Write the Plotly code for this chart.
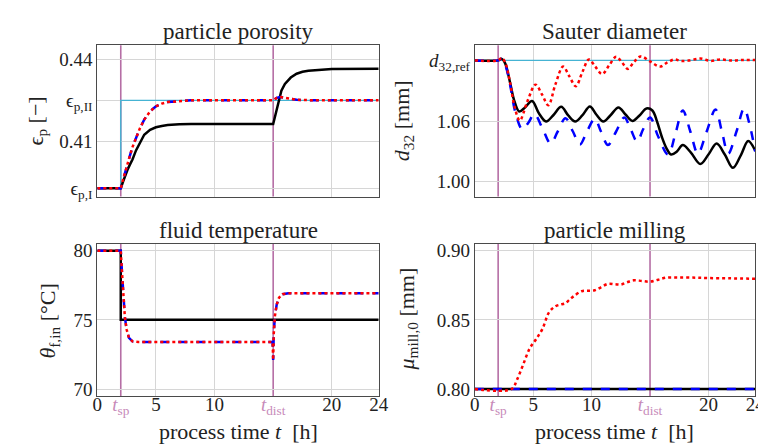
import plotly.graph_objects as go

# time markers
t_sp = 2
t_dist = 15

# ---- particle porosity ----
eps_I = 0.393
eps_II = 0.425
t_por_sp = [0, t_sp, t_sp, 24]
por_sp = [eps_I, eps_I, eps_II, eps_II]
t_por = [0, 2, 2.2, 2.4, 2.6, 2.8, 3, 3.3, 3.6, 4, 4.5, 5, 5.5, 6, 7, 8, 15,
         15.15, 15.3, 15.6, 16, 16.5, 17, 18, 19, 24]
por_red = [0.393, 0.393, 0.3962, 0.3995, 0.4025, 0.4052, 0.4080, 0.4115, 0.4145, 0.4180,
           0.4210, 0.4228, 0.4238, 0.4244, 0.4248, 0.4250, 0.4250,
           0.4255, 0.4259, 0.4262, 0.4259, 0.4255, 0.4252, 0.4251, 0.4250, 0.4250]
por_blue = list(por_red)
t_por_blk = [0, 2, 2.2, 2.4, 2.6, 2.8, 3, 3.3, 3.6, 4, 4.5, 5, 5.5, 6, 7, 8, 15,
             15.2, 15.4, 15.7, 16, 16.5, 17, 17.5, 18, 19, 20, 24]
por_blk = [0.393, 0.393, 0.3955, 0.3980, 0.4000, 0.4018, 0.4035, 0.4068, 0.4095, 0.4125,
           0.4143, 0.4152, 0.4157, 0.4160, 0.4163, 0.4164, 0.4164,
           0.4200, 0.4240, 0.4285, 0.4310, 0.4333, 0.4347, 0.4354, 0.4358, 0.4362,
           0.4364, 0.4365]

# ---- Sauter diameter ----
d32_ref = 1.121
t_d_sp = [0, 24]
d_sp = [d32_ref, d32_ref]
t_d_blk = [0, 2, 2.3, 2.6, 3, 3.4, 3.8, 4.3, 4.9, 5.5, 6.1, 6.7, 7.4, 8.0, 8.6, 9.2, 9.85,
           10.4, 11.0, 11.6, 12.3, 12.9, 13.5, 14.1, 14.7, 15.2, 15.6, 16.0, 16.4, 16.8,
           17.3, 17.8, 18.5, 19.3, 20.0, 20.7, 21.4, 22.1, 22.8, 23.4, 24]
d_blk = [1.121, 1.121, 1.1225, 1.118, 1.100, 1.080, 1.070, 1.074, 1.0805, 1.068, 1.060,
         1.066, 1.0747, 1.066, 1.060, 1.066, 1.075, 1.067, 1.060, 1.066, 1.074, 1.067,
         1.0605, 1.066, 1.073, 1.071, 1.060, 1.045, 1.0335, 1.027, 1.030, 1.0365, 1.029,
         1.0176, 1.027, 1.038, 1.027, 1.0137, 1.027, 1.0404, 1.031]
t_d_blue = [0, 2, 2.3, 2.6, 3, 3.5, 4.07, 4.6, 5.1, 5.8, 6.5, 7.1, 7.76, 8.4, 9.0, 9.6,
            10.27, 10.8, 11.4, 12.1, 12.8, 13.35, 13.9, 14.4, 15.0, 15.7, 16.55, 17.2,
            17.8, 18.45, 19.1, 19.85, 20.6, 21.15, 21.7, 22.4, 23.05, 23.5, 24]
d_blue = [1.121, 1.121, 1.1225, 1.117, 1.098, 1.068, 1.0522, 1.059, 1.0675, 1.053, 1.038,
          1.050, 1.0633, 1.050, 1.037, 1.050, 1.0626, 1.050, 1.0365, 1.050, 1.064, 1.052,
          1.040, 1.052, 1.064, 1.045, 1.027, 1.049, 1.071, 1.050, 1.028, 1.050, 1.072,
          1.050, 1.028, 1.050, 1.073, 1.058, 1.030]
t_d_red = [0, 2, 2.3, 2.6, 3, 3.4, 3.85, 4.5, 5.2, 5.75, 6.3, 6.9, 7.56, 8.1, 8.65, 9.2,
           9.77, 10.3, 10.9, 11.5, 12.1, 12.6, 13.1, 13.6, 14.2, 15.0, 15.85, 16.5, 17.1,
           17.6, 18.3, 19.3, 20.2, 21, 22, 23, 24]
d_red = [1.121, 1.121, 1.1235, 1.119, 1.100, 1.075, 1.061, 1.080, 1.0968, 1.087, 1.0763,
         1.097, 1.1148, 1.105, 1.0952, 1.109, 1.122, 1.115, 1.1073, 1.116, 1.1246, 1.119,
         1.1125, 1.119, 1.125, 1.120, 1.1148, 1.119, 1.122, 1.1205, 1.1208, 1.1228, 1.1205,
         1.122, 1.1208, 1.1215, 1.1213]

# ---- fluid temperature ----
t_th_blk = [0, t_sp, t_sp, 24]
th_blk = [80, 80, 75, 75]
t_th = [0, 2, 2.1, 2.2, 2.35, 2.5, 2.7, 3, 3.5, 14.95, 15.0, 15.05, 15.15, 15.3, 15.5,
        15.8, 16.3, 24]
th_red = [80, 80, 78.5, 76.8, 75.2, 74.3, 73.7, 73.45, 73.4, 73.4, 72.1, 74.0, 75.3, 76.1,
          76.6, 76.85, 76.92, 76.92]
th_blue = list(th_red)

# ---- particle milling ----
t_mu_flat = [0, 24]
mu_blk = [0.80, 0.80]
mu_blue = [0.80, 0.80]
t_mu_red = [0, 3.15, 3.6, 4.13, 4.7, 5.25, 5.8, 6.36, 6.9, 7.4, 7.76, 8.1, 8.46, 9.15, 9.7,
            10.27, 10.8, 11.4, 12.0, 12.5, 13.0, 13.6, 14.3, 15, 15.7, 16.4, 17.5, 18.9,
            20, 21.7, 24]
mu_red = [0.80, 0.80, 0.8065, 0.8174, 0.8293, 0.836, 0.8436, 0.8555, 0.8598, 0.8612, 0.862,
          0.8645, 0.867, 0.8707, 0.871, 0.8714, 0.8735, 0.876, 0.8757, 0.8755, 0.877,
          0.8786, 0.8781, 0.8776, 0.879, 0.8805, 0.8806, 0.8805, 0.8802, 0.8800, 0.8797]

FONT = "Liberation Serif"
TXT = "#222222"
CYAN = "#45b3d3"
PURPLE = "#b56ea5"
PURPLE_TXT = "#c78ab9"
RED = "#ff0000"
BLUE = "#0000ff"

fig = go.Figure()


def add(x, y, xa, ya, color, width, dash="solid", shape="linear"):
    fig.add_trace(go.Scatter(x=x, y=y, xaxis=xa, yaxis=ya, mode="lines",
                             line=dict(color=color, width=width, dash=dash, shape=shape),
                             showlegend=False, hoverinfo="skip"))


# porosity (x, y)
add(t_por_sp, por_sp, "x", "y", CYAN, 1.4)
add(t_por_blk, por_blk, "x", "y", "black", 2.5)
add(t_por, por_blue, "x", "y", BLUE, 2.5, "dash")
add(t_por, por_red, "x", "y", RED, 2.5, "dot")

# sauter (x2, y2)
add(t_d_sp, d_sp, "x2", "y2", CYAN, 1.4)
add(t_d_blk, d_blk, "x2", "y2", "black", 2.5, shape="spline")
add(t_d_blue, d_blue, "x2", "y2", BLUE, 2.5, "dash", "spline")
add(t_d_red, d_red, "x2", "y2", RED, 2.5, "dot", "spline")

# temperature (x3, y3)
add(t_th_blk, th_blk, "x3", "y3", "black", 2.5)
add(t_th, th_blue, "x3", "y3", BLUE, 2.5, "dash")
add(t_th, th_red, "x3", "y3", RED, 2.5, "dot")

# milling (x4, y4)
add(t_mu_flat, mu_blk, "x4", "y4", "black", 2.5)
add(t_mu_flat, mu_blue, "x4", "y4", BLUE, 2.5, "dash")
add(t_mu_red, mu_red, "x4", "y4", RED, 2.5, "dot", "spline")

x_ticks = [0, t_sp, 5, 10, t_dist, 20, 24]
x_text = ["0", f"<span style='color:{PURPLE_TXT}'><i>t</i><sub>sp</sub></span>", "5", "10",
          f"<span style='color:{PURPLE_TXT}'><i>t</i><sub>dist</sub></span>", "20", "24"]
x_grid = [5, 10, 20]

W, H = 766, 445
dom_x = [[86 / W, 373 / W], [471 / W, 757 / W]]
dom_y = [[1 - 189 / H, 1 - 35 / H], [1 - 392 / H, 1 - 237 / H]]

GRID = "#d6d6d6"
axis_common = dict(showline=True, mirror=True, linecolor="#4a4a4a", linewidth=1,
                   showgrid=True, gridcolor=GRID, gridwidth=1, zeroline=False,
                   ticks="", tickfont=dict(family=FONT, size=19, color=TXT))
x_common = dict(axis_common, showgrid=False, range=[0, 24], tickvals=x_ticks,
                minor=dict(tickmode="array", tickvals=x_grid, showgrid=True,
                           gridcolor=GRID, gridwidth=1, ticks=""))

layout = dict(
    width=W, height=H, margin=dict(l=0, r=0, t=0, b=0),
    plot_bgcolor="white", paper_bgcolor="white",
    xaxis=dict(x_common, domain=dom_x[0], anchor="y", showticklabels=False),
    xaxis2=dict(x_common, domain=dom_x[1], anchor="y2", showticklabels=False),
    xaxis3=dict(x_common, domain=dom_x[0], anchor="y3", ticktext=x_text,
                ticklabelstandoff=-9),
    xaxis4=dict(x_common, domain=dom_x[1], anchor="y4", ticktext=x_text,
                ticklabelstandoff=-9),
    yaxis=dict(axis_common, domain=dom_y[0], anchor="x", range=[0.39, 0.445],
               tickvals=[eps_I, 0.41, eps_II, 0.44],
               ticktext=["ϵ<sub>p,I</sub>", "0.41", "ϵ<sub>p,II</sub>", "0.44"]),
    yaxis2=dict(axis_common, domain=dom_y[0], anchor="x2", range=[0.985, 1.136],
                tickvals=[1.00, 1.06, d32_ref],
                ticktext=["1.00", "1.06", "<i>d</i><sub>32,ref</sub>"]),
    yaxis3=dict(axis_common, domain=dom_y[1], anchor="x3", range=[69.5, 80.5],
                tickvals=[70, 75, 80]),
    yaxis4=dict(axis_common, domain=dom_y[1], anchor="x4", range=[0.795, 0.905],
                tickvals=[0.80, 0.85, 0.90], ticktext=["0.80", "0.85", "0.90"]),
)
fig.update_layout(layout)

# vertical markers at t_sp and t_dist
for xa, ya in [("x", "y"), ("x2", "y2"), ("x3", "y3"), ("x4", "y4")]:
    for tv in (t_sp, t_dist):
        fig.add_shape(type="line", xref=xa, yref=f"{ya} domain", x0=tv, x1=tv, y0=0, y1=1,
                      line=dict(color=PURPLE, width=1.6), layer="below")

titles = ["particle porosity", "Sauter diameter", "fluid temperature", "particle milling"]
for i, txt in enumerate(titles):
    cx = sum(dom_x[i % 2]) / 2
    top = dom_y[i // 2][1]
    fig.add_annotation(text=txt, x=cx, y=top, xref="paper", yref="paper", showarrow=False,
                       xanchor="center", yanchor="bottom", yshift=-1,
                       font=dict(family=FONT, size=23, color=TXT))

# x-axis titles below the bottom row
for col in range(2):
    fig.add_annotation(text="process time <i>t</i>  [h]", x=sum(dom_x[col]) / 2,
                       y=1 - 428 / H, xref="paper", yref="paper", showarrow=False,
                       xanchor="center", yanchor="middle",
                       font=dict(family=FONT, size=22, color=TXT))

# y-axis titles (pixel centres read from the layout)
y_titles = [("ϵ<sub>p</sub> [−]", 24, 112),
            ("<i>d</i><sub>32</sub> [mm]", 398, 112),
            ("<i>θ</i><sub>f,in</sub> [°C]", 37, 316),
            ("<i>μ</i><sub>mill,0</sub> [mm]", 403, 314)]
for txt, px, py in y_titles:
    fig.add_annotation(text=txt, x=px / W, y=1 - py / H, xref="paper", yref="paper",
                       showarrow=False, textangle=-90, xanchor="center", yanchor="middle",
                       font=dict(family=FONT, size=22, color=TXT))

fig.write_html("out.html")
